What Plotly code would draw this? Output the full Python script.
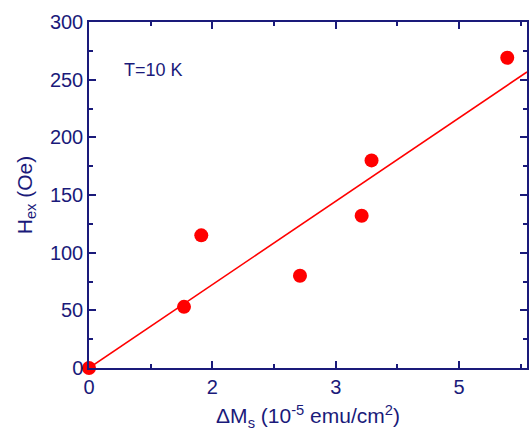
import plotly.graph_objects as go

# x positions are in tick-index units (axis labels 0,2,3,5 are evenly spaced)
tick_vals = [0, 1, 2, 3]
tick_text = ["0", "2", "3", "5"]
x_data = [0.0, 0.77, 0.91, 1.71, 2.21, 2.29, 3.39]
y_data = [0, 53, 115, 80, 132, 180, 269]
fit_x = [0.0, 3.55]
fit_y = [0.0, 256.7]

navy = "#1a1a7a"
red = "#ff0000"

fig = go.Figure()
fig.add_trace(go.Scatter(x=fit_x, y=fit_y, mode="lines",
                         line=dict(color=red, width=1.6), showlegend=False,
                         cliponaxis=True))
fig.add_trace(go.Scatter(x=x_data, y=y_data, mode="markers",
                         marker=dict(color=red, size=14, line=dict(width=0)),
                         showlegend=False, cliponaxis=False))

fig.update_layout(
    width=530, height=431,
    margin=dict(l=89, r=1, t=22, b=63),
    paper_bgcolor="white", plot_bgcolor="white",
    font=dict(family="Liberation Sans, Arial, sans-serif", color=navy, size=20),
    annotations=[dict(x=0.27, y=258, xref="x", yref="y", text="T=10 K",
                      showarrow=False, xanchor="left", yanchor="middle",
                      font=dict(size=18, color=navy))],
)
fig.update_xaxes(
    range=[0, 3.55], tickvals=tick_vals, ticktext=tick_text,
    ticks="inside", ticklen=7, tickwidth=1.5, tickcolor=navy,
    showline=True, linecolor=navy, linewidth=1.5, mirror="ticks",
    showgrid=False, zeroline=False,
    minor=dict(tickvals=[0.5, 1.5, 2.5, 3.5], ticks="inside", ticklen=4,
               tickwidth=1.5, tickcolor=navy),
    title=dict(text="ΔM<sub>s</sub> (10<sup>-5</sup> emu/cm<sup>2</sup>)",
               font=dict(size=21, color=navy), standoff=12),
    tickfont=dict(size=20, color=navy),
)
fig.update_yaxes(
    range=[0, 300], dtick=50, tick0=0,
    ticks="inside", ticklen=7, tickwidth=1.5, tickcolor=navy,
    showline=True, linecolor=navy, linewidth=1.5, mirror="ticks",
    showgrid=False, zeroline=False,
    minor=dict(dtick=25, ticks="inside", ticklen=4, tickwidth=1.5, tickcolor=navy),
    title=dict(text="H<sub>ex</sub> (Oe)", font=dict(size=21, color=navy), standoff=12),
    tickfont=dict(size=20, color=navy),
)

fig.write_html("out.html")
